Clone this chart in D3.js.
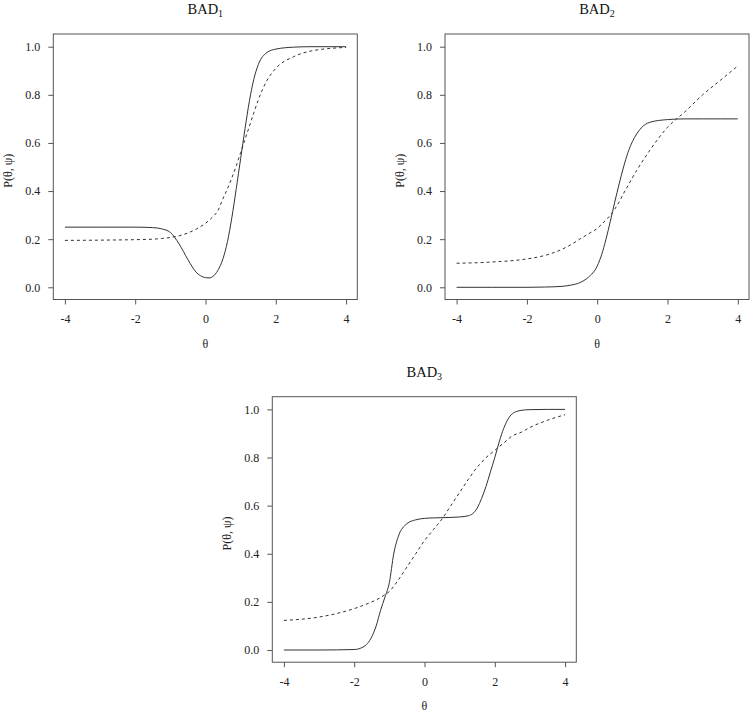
<!DOCTYPE html>
<html><head><meta charset="utf-8">
<script src="https://cdn.jsdelivr.net/npm/d3@7/dist/d3.min.js"></script>
<style>body{margin:0;background:#fff}svg{display:block}</style>
</head><body><svg id="c" width="752" height="714"></svg>
<script>
// ---- data ----
const panelTitles = ["BAD", "BAD", "BAD"];
const panelSubs = ["1", "2", "3"];
const xTickValues = [-4, -2, 0, 2, 4];
const yTickValues = [0, 0.2, 0.4, 0.6, 0.8, 1.0];
const xLabel = "θ";
const yLabel = "P(θ, ψ)";

const theta1  = [-4, -3, -2, -1.5, -1.25, -1, -0.75, -0.5, -0.25, -0.1, 0, 0.1, 0.2, 0.35, 0.5, 0.625, 0.75, 0.875, 1, 1.125, 1.25, 1.375, 1.5, 1.75, 2, 2.5, 3, 4];
const solid1  = [0.25, 0.25, 0.25, 0.248, 0.243, 0.228, 0.18, 0.115, 0.06, 0.045, 0.04, 0.039, 0.044, 0.07, 0.12, 0.19, 0.29, 0.41, 0.535, 0.66, 0.775, 0.865, 0.925, 0.976, 0.99, 0.998, 1.0, 1.0];
const dashed1 = [0.195, 0.196, 0.198, 0.2, 0.203, 0.207, 0.214, 0.226, 0.243, 0.256, 0.266, 0.278, 0.292, 0.318, 0.37, 0.41, 0.455, 0.505, 0.56, 0.615, 0.67, 0.725, 0.778, 0.86, 0.91, 0.958, 0.982, 0.997];

const theta2  = [-4, -3, -2, -1.5, -1, -0.75, -0.5, -0.25, 0, 0.125, 0.25, 0.375, 0.5, 0.625, 0.75, 0.875, 1, 1.125, 1.25, 1.5, 2, 2.5, 3, 3.5, 4];
const solid2  = [0, 0, 0, 0.001, 0.004, 0.009, 0.019, 0.042, 0.088, 0.135, 0.2, 0.275, 0.355, 0.43, 0.5, 0.56, 0.605, 0.638, 0.662, 0.686, 0.697, 0.7, 0.7, 0.7, 0.7];
const dashed2 = [0.1, 0.105, 0.118, 0.132, 0.158, 0.177, 0.2, 0.222, 0.245, 0.262, 0.28, 0.3, 0.325, 0.355, 0.39, 0.422, 0.455, 0.486, 0.515, 0.57, 0.665, 0.73, 0.8, 0.86, 0.92];

const theta3  = [-4, -3, -2, -1.75, -1.5, -1.375, -1.25, -1.125, -1, -0.875, -0.75, -0.5, -0.25, 0, 0.25, 0.5, 0.75, 1, 1.25, 1.5, 1.625, 1.75, 1.875, 2, 2.125, 2.25, 2.5, 2.75, 3, 3.5, 4];
const solid3  = [0, 0, 0.002, 0.012, 0.055, 0.1, 0.165, 0.22, 0.28, 0.4, 0.47, 0.525, 0.541, 0.547, 0.549, 0.55, 0.551, 0.553, 0.558, 0.59, 0.63, 0.68, 0.74, 0.8, 0.865, 0.92, 0.982, 0.996, 0.999, 1.0, 1.0];
const dashed3 = [0.123, 0.137, 0.172, 0.185, 0.2, 0.208, 0.218, 0.23, 0.243, 0.265, 0.29, 0.345, 0.4, 0.455, 0.5, 0.545, 0.6, 0.655, 0.71, 0.76, 0.78, 0.8, 0.815, 0.83, 0.845, 0.86, 0.89, 0.905, 0.925, 0.955, 0.978];

// ---- layout ----
const layout = [
  {left: 53.3, top: 34},
  {left: 445.0, top: 34},
  {left: 272.3, top: 396.7}
];
const boxW = 304, boxH = 265.5;
const series = [
  {theta: theta1, solid: solid1, dashed: dashed1},
  {theta: theta2, solid: solid2, dashed: dashed2},
  {theta: theta3, solid: solid3, dashed: dashed3}
];
const FONT = "'Liberation Serif','Times New Roman',Times,serif";
const ink = "#333";

const svg = d3.select("#c");

layout.forEach((L, i) => {
  const g = svg.append("g");
  const x = d3.scaleLinear().domain([-4, 4]).range([L.left + 11.6, L.left + boxW - 11.2]);
  const y = d3.scaleLinear().domain([0, 1]).range([L.top + boxH - 12.2, L.top + 12.7]);

  // box
  g.append("rect").attr("x", L.left).attr("y", L.top).attr("width", boxW).attr("height", boxH)
    .attr("fill", "none").attr("stroke", "#555").attr("stroke-width", 1);

  // x axis
  const xa = d3.axisBottom(x).tickValues(xTickValues).tickSize(5).tickPadding(10)
    .tickFormat(d => String(d));
  const xg = g.append("g").attr("transform", `translate(0,${L.top + boxH})`).call(xa)
    .attr("font-family", FONT).attr("font-size", 12);
  xg.select(".domain").remove();
  xg.selectAll("line").attr("stroke", "#555");
  xg.selectAll("text").attr("fill", "#222");

  // y axis
  const ya = d3.axisLeft(y).tickValues(yTickValues).tickSize(5).tickPadding(8)
    .tickFormat(d3.format(".1f"));
  const yg = g.append("g").attr("transform", `translate(${L.left},0)`).call(ya)
    .attr("font-family", FONT).attr("font-size", 12);
  yg.select(".domain").remove();
  yg.selectAll("line").attr("stroke", "#555");
  yg.selectAll("text").attr("fill", "#222");

  // title
  const t = g.append("text").attr("x", L.left + boxW / 2).attr("y", L.top - 20)
    .attr("text-anchor", "middle").attr("font-family", FONT).attr("font-size", 14.5).attr("fill", "#111");
  t.append("tspan").text(panelTitles[i]);
  t.append("tspan").attr("font-size", 10).attr("dy", 3).text(panelSubs[i]);

  // axis labels
  g.append("text").attr("x", L.left + boxW / 2).attr("y", L.top + boxH + 48)
    .attr("text-anchor", "middle").attr("font-family", FONT).attr("font-size", 12).attr("fill", "#222")
    .text(xLabel);
  g.append("text").attr("transform", `translate(${L.left - 41},${L.top + boxH / 2 + 4}) rotate(-90)`)
    .attr("text-anchor", "middle").attr("font-family", FONT).attr("font-size", 12).attr("fill", "#222")
    .text(yLabel);

  // curves
  const S = series[i];
  const pts = k => S.theta.map((th, j) => [th, S[k][j]]);
  const line = d3.line().x(d => x(d[0])).y(d => y(d[1])).curve(d3.curveMonotoneX);
  g.append("path").attr("d", line(pts("dashed"))).attr("fill", "none")
    .attr("stroke", ink).attr("stroke-width", 1).attr("stroke-dasharray", "3,3");
  g.append("path").attr("d", line(pts("solid"))).attr("fill", "none")
    .attr("stroke", ink).attr("stroke-width", 1);
});
</script>
</body></html>
